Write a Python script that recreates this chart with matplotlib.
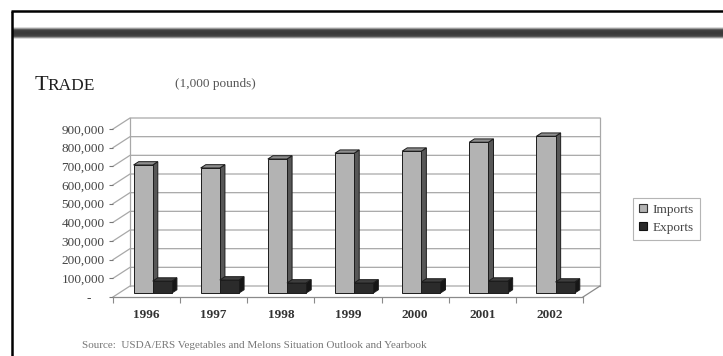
import matplotlib
matplotlib.use("Agg")
import matplotlib.pyplot as plt
import numpy as np
from matplotlib.patches import Polygon, Patch

# ---- data (1,000 pounds) ----
years = ["1996", "1997", "1998", "1999", "2000", "2001", "2002"]
imports = [686000, 670000, 718000, 749000, 760000, 808000, 840000]
exports = [64000, 70000, 54000, 54000, 59000, 64000, 59000]
value_ticks = [0, 100000, 200000, 300000, 400000, 500000, 600000, 700000, 800000, 900000]
series_names = ["Imports", "Exports"]

plt.rcParams['font.family'] = ['Liberation Serif', 'DejaVu Serif']

W, H = 723, 356
fig = plt.figure(figsize=(W / 100, H / 100), dpi=100)
fig.patch.set_facecolor('white')

# ---- page decoration layer, in pixel units ----
bg = fig.add_axes([0, 0, 1, 1], zorder=0)
bg.set_xlim(0, W)
bg.set_ylim(H, 0)
bg.axis('off')
bg.plot([12, 12], [10.5, H], color='black', lw=1.8, solid_capstyle='butt')
bg.plot([11, W], [11, 11], color='black', lw=1.8, solid_capstyle='butt')
band = np.array([0.86, 0.62, 0.36, 0.26, 0.24, 0.23, 0.23, 0.24, 0.26, 0.34, 0.58, 0.85])
bg.imshow(band[:, None], extent=(13, W, 39.5, 27.5), cmap='gray', vmin=0, vmax=1,
          aspect='auto', interpolation='bilinear')

# small-caps heading: large initial, smaller capitals after it
bg.text(35, 90, "T", fontsize=16, va='baseline', ha='left', color='#1e1e1e')
bg.text(47.5, 90, "RADE", fontsize=12.5, va='baseline', ha='left', color='#1e1e1e')

bg.text(175, 87, "(1,000 pounds)", fontsize=9.5, va='baseline', ha='left', color='#555555')
bg.text(82, 345, "Source:  USDA/ERS Vegetables and Melons Situation Outlook and Yearbook",
        fontsize=8, va='center', ha='left', color='#777777')

# ---- chart (front plane in data units, depth projected obliquely) ----
x0_px, x1_px, y0_px, y1_px = 113, 583, 297, 129
ax = fig.add_axes([x0_px / W, 1 - y0_px / H, (x1_px - x0_px) / W, (y0_px - y1_px) / H], zorder=2)
n = len(years)
ax.set_xlim(-0.5, n - 0.5)
ax.set_ylim(0, value_ticks[-1])
ax.patch.set_visible(False)
for s in ['top', 'right', 'left']:
    ax.spines[s].set_visible(False)
ax.spines['bottom'].set_color('#8a8a8a')
ax.spines['bottom'].set_linewidth(0.9)

px_per_cat = (x1_px - x0_px) / n
px_per_val = (y0_px - y1_px) / value_ticks[-1]
depth_dx = 17 / px_per_cat
depth_dy = 11 / px_per_val


def proj(x, v, d):
    return x + d * depth_dx, v + d * depth_dy


grid_c = '#a8a8a8'
xl, xr = -0.5, n - 0.5
for v in value_ticks:
    pts = [proj(xl, v, 0), proj(xl, v, 1), proj(xr, v, 1)]
    ax.plot([p[0] for p in pts], [p[1] for p in pts], color=grid_c, lw=0.9,
            clip_on=False, zorder=1)
for xx in (xl, xr):
    a, b = proj(xx, 0, 1), proj(xx, value_ticks[-1], 1)
    ax.plot([a[0], b[0]], [a[1], b[1]], color=grid_c, lw=0.9, clip_on=False, zorder=1)
a, b = proj(xr, 0, 0), proj(xr, 0, 1)
ax.plot([a[0], b[0]], [a[1], b[1]], color='#8a8a8a', lw=0.9, clip_on=False, zorder=1)

# 3-D columns
d0, d1 = 0.36, 0.66
bw = 0.285
styles = [
    dict(front='#b3b3b3', side='#575757', top='#8e8e8e'),
    dict(front='#2b2b2b', side='#161616', top='#3e3e3e'),
]
edge = '#1c1c1c'


def column(xa, xb, v, st, z):
    front = [proj(xa, 0, d0), proj(xb, 0, d0), proj(xb, v, d0), proj(xa, v, d0)]
    side = [proj(xb, 0, d0), proj(xb, 0, d1), proj(xb, v, d1), proj(xb, v, d0)]
    top = [proj(xa, v, d0), proj(xb, v, d0), proj(xb, v, d1), proj(xa, v, d1)]
    for poly, fc in ((side, st['side']), (top, st['top']), (front, st['front'])):
        ax.add_patch(Polygon(poly, closed=True, fc=fc, ec=edge, lw=0.7,
                             joinstyle='miter', clip_on=False, zorder=z))


for i in range(n):
    column(i - bw, i, imports[i], styles[0], 3 + 2 * i)
    column(i, i + bw, exports[i], styles[1], 4 + 2 * i)

# axes ticks
ax.set_yticks(value_ticks)
ax.set_yticklabels(["-    " if v == 0 else f"{v:,}" for v in value_ticks])
ax.tick_params(axis='y', length=3, width=0.8, color='#777777', labelsize=9.5,
               labelcolor='#444444', pad=3)
ax.set_xticks(range(n))
ax.set_xticklabels(years, fontweight='bold')
ax.tick_params(axis='x', which='major', length=0, labelsize=9.5, labelcolor='#333333', pad=9)
ax.set_xticks(np.arange(-0.5, n, 1), minor=True)
ax.tick_params(axis='x', which='minor', length=4, width=0.8, color='#8a8a8a', direction='out')

# legend
handles = [Patch(fc=styles[0]['front'], ec='#333333', lw=0.8),
           Patch(fc=styles[1]['front'], ec='#111111', lw=0.8)]
leg = fig.legend(handles, series_names, loc='upper left',
                 bbox_to_anchor=(633 / W, 1 - 198 / H), frameon=True, fancybox=False,
                 edgecolor='#b5b5b5', fontsize=9.5, handlelength=0.6, handleheight=0.6,
                 handletextpad=0.45, borderpad=0.45, labelspacing=0.45, borderaxespad=0,
                 labelcolor='#444444', framealpha=1)
leg.get_frame().set_linewidth(0.8)

fig.savefig("out.png", dpi=100, facecolor='white')
